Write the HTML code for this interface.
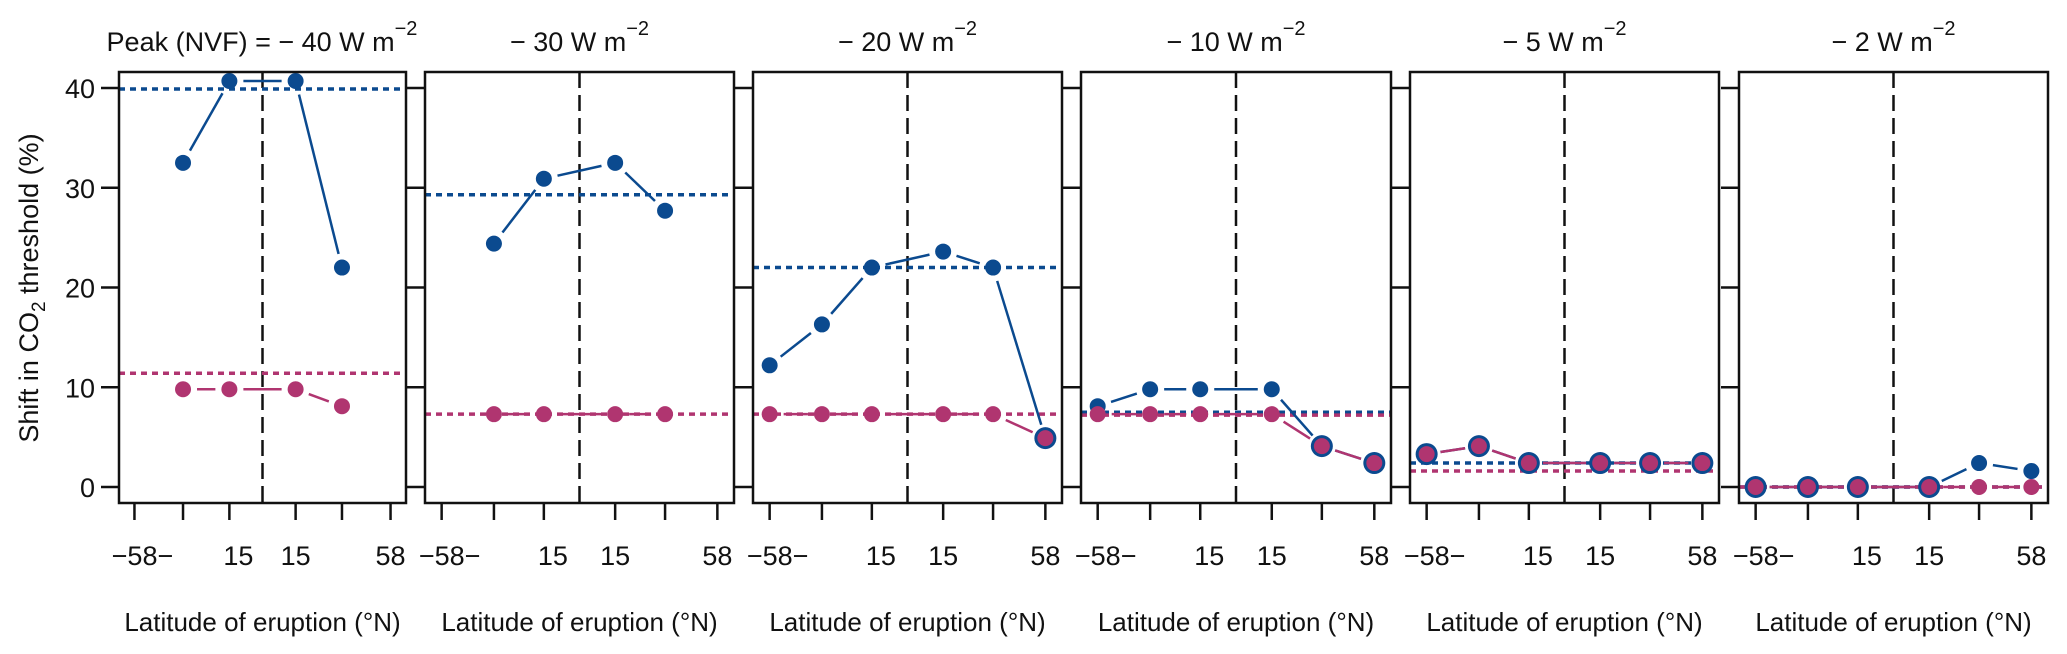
<!DOCTYPE html>
<html><head><meta charset="utf-8"><style>
html,body{margin:0;padding:0;background:#fff;}
svg{display:block;font-family:"Liberation Sans",Arial,sans-serif;}
</style></head><body>
<svg id="chart" width="2067" height="654" viewBox="0 0 2067 654" xmlns="http://www.w3.org/2000/svg"></svg>
<script>
const panelTitles = ["\u2212 40", "\u2212 30", "\u2212 20", "\u2212 10", "\u2212 5", "\u2212 2"];
const lats = [-58, -36, -15, 15, 36, 58];
const blueVals = [
  [null, 32.5, 40.7, 40.7, 22.0, null],
  [null, 24.4, 30.9, 32.5, 27.7, null],
  [12.2, 16.3, 22.0, 23.6, 22.0, 4.9],
  [8.1, 9.8, 9.8, 9.8, 4.1, 2.4],
  [3.3, 4.1, 2.4, 2.4, 2.4, 2.4],
  [0, 0, 0, 0, 2.4, 1.6]
];
const pinkVals = [
  [null, 9.8, 9.8, 9.8, 8.1, null],
  [null, 7.3, 7.3, 7.3, 7.3, null],
  [7.3, 7.3, 7.3, 7.3, 7.3, 4.9],
  [7.3, 7.3, 7.3, 7.3, 4.1, 2.4],
  [3.3, 4.1, 2.4, 2.4, 2.4, 2.4],
  [0, 0, 0, 0, 0, 0]
];
const blueMeans = [39.9, 29.3, 22.0, 7.5, 2.4, 0];
const pinkMeans = [11.4, 7.3, 7.3, 7.2, 1.6, 0];
const yTicks = [0, 10, 20, 30, 40];

const NS = "http://www.w3.org/2000/svg";
const svg = document.getElementById("chart");
const BLUE = "#0b4a8f", PINK = "#b03570";
const top0 = 72, bot0 = 503;
function yS(v){ return 487 - v * 9.975; }
function mk(tag, attrs, parent){ const e = document.createElementNS(NS, tag); for (const k in attrs) e.setAttribute(k, attrs[k]); (parent||svg).appendChild(e); return e; }

const panelLeft = [119, 425, 753, 1081, 1410, 1739];
const panelRight = [406, 734, 1062, 1391, 1719, 2048];

panelLeft.forEach((L, p) => {
  const R = panelRight[p];
  const g = mk("g", {});
  
  
  const xS = v => L + (v + 65) / 130 * (R - L);
  const eq = mk("line", {x1: xS(0), x2: xS(0), y1: top0, y2: bot0, stroke: "#111", "stroke-width": 2.5, "stroke-dasharray": "16,7"}, g);
  
  
  [[blueMeans[p], BLUE, 'blue-mean-line'], [pinkMeans[p], PINK, 'pink-mean-line']].forEach(([m, c, n]) => {
    const l = mk("line", {x1: L, x2: R, y1: yS(m), y2: yS(m), stroke: c, "stroke-width": 3.5, "stroke-dasharray": "6,5"}, g);
    
    
  });
  [[blueVals[p], BLUE, 'blue'], [pinkVals[p], PINK, 'pink']].forEach(([vals, c, n]) => {
    const pts = [];
    vals.forEach((v, i) => { if (v !== null) pts.push([xS(lats[i]), yS(v), i]); });
    for (let k = 0; k < pts.length - 1; k++) {
      const [x1, y1] = pts[k], [x2, y2] = pts[k + 1];
      const d = Math.hypot(x2 - x1, y2 - y1), gap = 14;
      if (d > 2 * gap + 2) {
        const ux = (x2 - x1) / d, uy = (y2 - y1) / d;
        const s = mk("line", {x1: x1 + ux * gap, y1: y1 + uy * gap, x2: x2 - ux * gap, y2: y2 - uy * gap, stroke: c, "stroke-width": 2.5}, g);
        
        
      }
    }
    pts.forEach(([x, y, i]) => {
      const same = blueVals[p][i] === pinkVals[p][i];
      const r = (n === 'blue' && same) ? 11 : 8;
      const ci = mk("circle", {cx: x, cy: y, r: r, fill: c}, g);
      
      
    });
  });
  const box = mk("rect", {x: L, y: top0, width: R - L, height: bot0 - top0, fill: "none", stroke: "#111", "stroke-width": 2.5}, g);
  
  
  yTicks.forEach(t => {
    const tk = mk("line", {x1: L - 18, x2: L, y1: yS(t), y2: yS(t), stroke: "#111", "stroke-width": 2.5}, g);
    
    
    if (p === 0) {
      const tl = mk("text", {x: L - 24, y: yS(t) + 10, "text-anchor": "end", "font-size": 27, fill: "#111"}, g);
      tl.textContent = t;
      
      
    }
  });
  lats.forEach(v => {
    const tk = mk("line", {x1: xS(v), x2: xS(v), y1: bot0, y2: 520, stroke: "#111", "stroke-width": 2.5}, g);
    
    
  });
  [["\u221258\u2212", xS(-58) + 8], ["15", xS(-15) + 9], ["15", xS(15)], ["58", xS(58)]].forEach(([t, x]) => {
    const tl = mk("text", {x: x, y: 565, "text-anchor": "middle", "font-size": 27, fill: "#111"}, g);
    tl.textContent = t;
    
    
  });
  const xl = mk("text", {x: (L + R) / 2, y: 631, "text-anchor": "middle", "font-size": 26, fill: "#111"}, g);
  xl.textContent = "Latitude of eruption (\u00B0N)";
  
  
  const tt = mk("text", {x: p === 0 ? 262 : (L + R) / 2, y: 51, "text-anchor": "middle", "font-size": 27, fill: "#111"}, g);
  
  
  const a = document.createElementNS(NS, "tspan");
  a.textContent = (p === 0 ? "Peak (NVF) = " : "") + panelTitles[p] + " W m";
  tt.appendChild(a);
  const b = document.createElementNS(NS, "tspan");
  b.setAttribute("dy", -16); b.setAttribute("font-size", 20);
  b.textContent = "\u22122";
  tt.appendChild(b);
});
const yt = mk("text", {transform: "translate(38,288) rotate(-90)", "text-anchor": "middle", "font-size": 27, fill: "#111"});


const t1 = document.createElementNS(NS, "tspan"); t1.textContent = "Shift in CO"; yt.appendChild(t1);
const t2 = document.createElementNS(NS, "tspan"); t2.setAttribute("dy", 7); t2.setAttribute("font-size", 19); t2.textContent = "2"; yt.appendChild(t2);
const t3 = document.createElementNS(NS, "tspan"); t3.setAttribute("dy", -7); t3.textContent = " threshold (%)"; yt.appendChild(t3);
</script>
</body></html>
